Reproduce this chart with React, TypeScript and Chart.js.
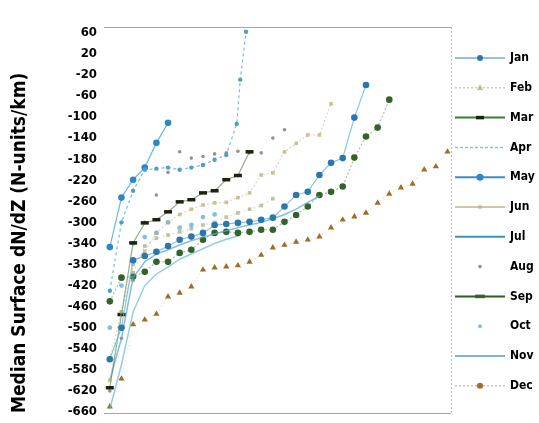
import React, { useEffect, useRef } from 'react';
import { Chart, registerables } from 'chart.js';

Chart.register(...registerables);

const months = ['Jan', 'Feb', 'Mar', 'Apr', 'May', 'Jun', 'Jul', 'Aug', 'Sep', 'Oct', 'Nov', 'Dec'];
const yTickValues = [60, 20, -20, -60, -100, -140, -180, -220, -260, -300, -340, -380, -420, -460, -500, -540, -580, -620, -660];
const yTitle = 'Median Surface dN/dZ (N-units/km)';

// series values (x = position index along the profile)
const janY = [-560, -500, -372, -364, -356, -345, -333, -327, -320, -305, -303, -301, -299, -295, -291, -270, -248, -242, -210, -187, -178, -101, -39];
const febY = [-600, -470, -395, -345, -330, -324, -318, -312, -305, -300, -290, -282, -275, -268, -255];
const marY = [-614, -475, -339, -301, -295, -280, -261, -257, -244, -240, -219, -211, -166];
const aprX = [0, 1, 2, 3, 4, 5, 6, 7, 8, 9, 10, 10.9, 11.2, 11.7];
const aprY = [-430, -300, -240, -200, -198, -196, -200, -196, -191, -181, -172, -113, -29, 62];
const mayY = [-347, -253, -219, -196, -149, -111];
const junY = [-560, -470, -380, -355, -320, -300, -285, -275, -267, -263, -262, -253, -244, -210, -206, -166, -150, -134, -134, -75];
const julY = [-600, -520, -405, -375, -360, -352, -343, -335, -328, -322, -316, -310, -305, -300, -293, -285, -275, -262, -250];
const augY = [-620, -520, -410, -300, -248, -205, -166, -178, -175, -170, -168, -165, -168, -168, -140, -124];
const sepY = [-450, -405, -403, -394, -375, -375, -358, -352, -333, -320, -318, -320, -318, -314, -314, -299, -286, -270, -248, -242, -232, -177, -137, -120, -67];
const octY = [-500, -420, -340, -328, -320, -300, -310, -305, -290, -285];
const novY = [-655, -570, -470, -420, -398, -385, -370, -360, -350, -340, -332, -326];
const decY = [-650, -597, -494, -485, -474, -441, -434, -422, -390, -386, -384, -382, -375, -362, -348, -343, -337, -333, -327, -310, -295, -289, -282, -263, -246, -234, -227, -200, -194, -166];

const toPoints = (ys: number[], xs?: number[]) => ys.map((y, i) => ({ x: xs ? xs[i] : i, y }));

const FONT = '"DejaVu Sans Condensed", "Liberation Sans Narrow", "DejaVu Sans", sans-serif';

function drawMarker(ctx: CanvasRenderingContext2D, style: string, x: number, y: number, r: number, fill: string, stroke: string) {
  ctx.save();
  ctx.fillStyle = fill;
  ctx.strokeStyle = stroke;
  ctx.setLineDash([]);
  ctx.beginPath();
  if (style === 'circle') {
    ctx.arc(x, y, r, 0, Math.PI * 2);
    ctx.fill();
  } else if (style === 'triangle') {
    ctx.moveTo(x, y - r);
    ctx.lineTo(x + r * 0.95, y + r * 0.7);
    ctx.lineTo(x - r * 0.95, y + r * 0.7);
    ctx.closePath();
    ctx.fill();
  } else if (style === 'rect') {
    ctx.rect(x - r, y - r, 2 * r, 2 * r);
    ctx.fill();
  } else if (style === 'line') {
    ctx.lineWidth = 3.5;
    ctx.moveTo(x - r, y);
    ctx.lineTo(x + r, y);
    ctx.stroke();
  }
  ctx.restore();
}

const sideLegend = {
  id: 'sideLegend',
  afterDraw(chart: any) {
    const { ctx, chartArea } = chart;
    const step = 29.8;
    chart.data.datasets.forEach((ds: any, i: number) => {
      const y = chartArea.top + 31 + i * step;
      const x0 = chartArea.right + 4;
      const x1 = x0 + 50;
      ctx.save();
      if (ds.legendLine) {
        ctx.strokeStyle = ds.legendLine;
        ctx.lineWidth = ds.legendLineWidth || 1.5;
        ctx.setLineDash(ds.legendDash || []);
        ctx.beginPath();
        ctx.moveTo(x0, y);
        ctx.lineTo(x1, y);
        ctx.stroke();
      }
      if (ds.legendMarker) {
        drawMarker(ctx, ds.legendMarker, (x0 + x1) / 2, y, ds.legendMarkerSize || 3, ds.pointBackgroundColor || ds.borderColor, ds.pointBorderColor || ds.borderColor);
      }
      ctx.fillStyle = '#000';
      ctx.font = 'bold 12px ' + FONT;
      ctx.textBaseline = 'middle';
      ctx.textAlign = 'left';
      ctx.fillText(ds.label, x1 + 5, y);
      ctx.restore();
    });
  },
};

const frame = {
  id: 'frame',
  beforeDatasetsDraw(chart: any) {
    const { ctx, chartArea } = chart;
    const { left, right, top, bottom } = chartArea;
    ctx.save();
    ctx.strokeStyle = 'rgba(110,140,170,0.75)';
    ctx.lineWidth = 1;
    ctx.beginPath();
    ctx.moveTo(left, top + 0.5);
    ctx.lineTo(right, top + 0.5);
    ctx.moveTo(left, bottom + 0.5);
    ctx.lineTo(right, bottom + 0.5);
    ctx.stroke();
    ctx.setLineDash([2, 2]);
    ctx.strokeStyle = 'rgba(110,140,170,0.55)';
    ctx.beginPath();
    ctx.moveTo(right + 0.5, top);
    ctx.lineTo(right + 0.5, bottom);
    ctx.stroke();
    ctx.restore();
  },
};

export default function App() {
  const ref = useRef<HTMLCanvasElement | null>(null);
  useEffect(() => {
    document.body.style.margin = '0';
    document.body.style.background = '#fff';
    const canvas = ref.current;
    if (!canvas) return;

    const mk = (label: string, data: any[], o: any) => ({
      label,
      data,
      borderWidth: 1.2,
      pointRadius: 3,
      pointHoverRadius: 3,
      pointBorderWidth: 0,
      ...o,
    });

    const datasets = [
      mk('Jan', toPoints(janY), { showLine: true, borderColor: 'rgba(110,180,220,0.8)', pointBackgroundColor: '#2b76ad', pointBorderColor: '#2b76ad', pointStyle: 'circle', pointRadius: 3.3, legendLine: 'rgba(80,150,200,0.8)', legendMarker: 'circle' }),
      mk('Feb', toPoints(febY), { showLine: true, borderColor: 'rgba(200,200,180,0.6)', borderDash: [2, 3], pointBackgroundColor: 'rgba(170,175,130,0.75)', pointBorderColor: 'rgba(170,175,130,0.75)', pointStyle: 'rect', pointRadius: 2.6, legendLine: 'rgba(190,190,170,0.8)', legendDash: [2, 2], legendMarker: 'triangle', legendMarkerSize: 3.5 }),
      mk('Mar', toPoints(marY), { showLine: true, borderColor: 'rgba(70,120,60,0.6)', pointBackgroundColor: '#1c220e', pointBorderColor: '#1c220e', pointStyle: 'line', pointRadius: 4, pointBorderWidth: 3.5, legendLine: '#3d7a35', legendLineWidth: 2, legendMarker: 'line', legendMarkerSize: 4 }),
      mk('Apr', toPoints(aprY, aprX), { showLine: true, borderColor: 'rgba(100,175,215,0.85)', borderDash: [3, 3], pointBackgroundColor: '#4f9ecb', pointBorderColor: '#4f9ecb', pointStyle: 'circle', pointRadius: 2.2, legendLine: 'rgba(120,180,210,0.85)', legendDash: [3, 2], legendMarker: null }),
      mk('May', toPoints(mayY), { showLine: true, borderColor: 'rgba(80,170,220,0.85)', pointBackgroundColor: '#2f86c4', pointBorderColor: '#2f86c4', pointStyle: 'circle', pointRadius: 3.3, legendLine: '#3a8cc8', legendLineWidth: 2, legendMarker: 'circle', legendMarkerSize: 3.5 }),
      mk('Jun', toPoints(junY), { showLine: true, borderColor: 'rgba(200,190,150,0.6)', borderDash: [2, 2], pointBackgroundColor: 'rgba(185,170,110,0.7)', pointBorderColor: 'rgba(185,170,110,0.7)', pointStyle: 'rect', pointRadius: 2.6, legendLine: 'rgba(180,165,120,0.85)', legendMarker: 'rect', legendMarkerSize: 1.8 }),
      mk('Jul', toPoints(julY), { showLine: true, borderColor: 'rgba(90,170,210,0.75)', borderWidth: 1.5, pointRadius: 0, legendLine: '#3c8fc0', legendLineWidth: 2, legendMarker: null }),
      mk('Aug', toPoints(augY), { showLine: false, borderColor: 'rgba(120,120,120,0.7)', pointBackgroundColor: 'rgba(120,120,110,0.8)', pointBorderColor: 'rgba(120,120,110,0.8)', pointStyle: 'circle', pointRadius: 1.8, legendLine: null, legendMarker: 'circle', legendMarkerSize: 1.8 }),
      mk('Sep', toPoints(sepY), { showLine: true, borderColor: 'rgba(90,150,80,0.55)', borderDash: [2, 2], pointBackgroundColor: '#34632a', pointBorderColor: '#34632a', pointStyle: 'circle', pointRadius: 3.3, legendLine: '#2c5e20', legendLineWidth: 2, legendMarker: 'line', legendMarkerSize: 5 }),
      mk('Oct', toPoints(octY), { showLine: false, borderColor: '#7ab8d8', pointBackgroundColor: 'rgba(90,170,215,0.75)', pointBorderColor: 'rgba(90,170,215,0.75)', pointStyle: 'circle', pointRadius: 2.4, legendLine: null, legendMarker: 'circle', legendMarkerSize: 2 }),
      mk('Nov', toPoints(novY), { showLine: true, borderColor: 'rgba(100,185,215,0.7)', borderWidth: 1.5, pointRadius: 0, legendLine: 'rgba(60,130,190,0.85)', legendLineWidth: 1.5, legendMarker: null }),
      mk('Dec', toPoints(decY), { showLine: true, borderColor: 'rgba(220,190,140,0.5)', borderDash: [1, 3], pointBackgroundColor: '#9c6e26', pointBorderColor: '#9c6e26', pointStyle: 'triangle', pointRadius: 3.6, legendLine: 'rgba(190,180,160,0.8)', legendDash: [2, 2], legendMarker: 'circle', legendMarkerSize: 3 }),
    ];

    const chart = new Chart(canvas, {
      type: 'scatter',
      data: { datasets },
      options: {
        animation: false,
        responsive: false,
        maintainAspectRatio: false,
        devicePixelRatio: 1,
        layout: { padding: { left: 8, right: 88, top: 27, bottom: 10 } },
        plugins: { legend: { display: false }, tooltip: { enabled: false } },
        scales: {
          x: { type: 'linear', min: -0.5, max: 29.3, display: false },
          y: {
            type: 'linear',
            min: -662,
            max: 71,
            afterBuildTicks: (s: any) => {
              s.ticks = yTickValues.map((v) => ({ value: v }));
            },
            afterFit: (s: any) => {
              s.width = 96;
              s.paddingTop = 0;
              s.paddingBottom = 0;
            },
            grid: { display: false, drawTicks: false },
            border: { display: false },
            ticks: { color: '#000', padding: 7, font: { family: FONT, weight: 'bold', size: 13 } },
            title: { display: true, text: yTitle, align: 'start', color: '#000', font: { family: FONT, weight: 'bold', size: 19 }, padding: { top: 1, bottom: 4 } },
          },
        },
      } as any,
      plugins: [frame, sideLegend],
    });
    return () => chart.destroy();
  }, []);
  return <canvas ref={ref} width={539} height={423} style={{ display: 'block' }} />;
}
